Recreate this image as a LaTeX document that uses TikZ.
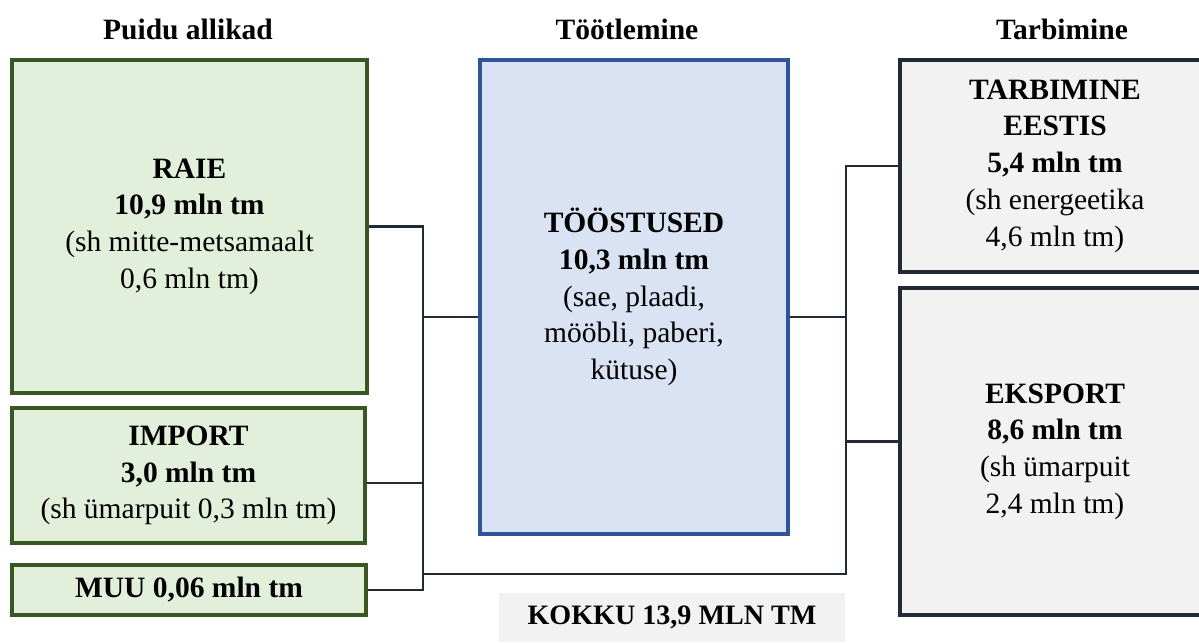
\documentclass[tikz,border=0pt]{standalone}
\usepackage{fontspec}
\setmainfont{Liberation Serif}

\definecolor{srcline}{HTML}{385723}
\definecolor{srcfill}{HTML}{E2EFDA}
\definecolor{indline}{HTML}{2F5597}
\definecolor{indfill}{HTML}{DAE3F3}
\definecolor{useline}{HTML}{222A35}
\definecolor{usefill}{HTML}{F2F2F2}

\begin{document}
\begin{tikzpicture}[x=0.02cm,y=-0.02cm,
        every node/.style={font=\fontsize{16.8}{20.9}\selectfont},
        srcbox/.style={draw=srcline,fill=srcfill,line width=2.2pt,align=center,inner sep=0pt},
        indbox/.style={draw=indline,fill=indfill,line width=2.2pt,align=center,inner sep=0pt},
        usebox/.style={draw=useline,fill=usefill,line width=2.2pt,align=center,inner sep=0pt},
        conn/.style={draw=useline,line width=1.3pt},
        heading/.style={font=\fontsize{16.8}{20.9}\selectfont\bfseries}]
    \useasboundingbox(0,0)rectangle(1199,642);

    % column headings
    \node[heading](hsrc)at(188,29){Puidu allikad};
    \node[heading](hind)at(627,29){Töötlemine};
    \node[heading](huse)at(1062,29){Tarbimine};

    % sources
    \node[srcbox,minimum width=7.1cm,minimum height=6.66cm](raie)at(189.5,226.5)
        {\textbf{RAIE}\\\textbf{10,9 mln tm}\\(sh mitte-metsamaalt\\0,6 mln tm)};
    \node[srcbox,minimum width=7.06cm,minimum height=2.7cm](import)at(188.5,475.5)
        {\textbf{IMPORT}\\\textbf{3,0 mln tm}\\(sh ümarpuit 0,3 mln tm)};
    \node[srcbox,minimum width=7.08cm,minimum height=1cm](muu)at(189,590)
        {\textbf{MUU 0,06 mln tm}};

    % processing
    \node[indbox,minimum width=6.16cm,minimum height=9.48cm](toos)at(634,297)
        {\textbf{TÖÖSTUSED}\\\textbf{10,3 mln tm}\\(sae, plaadi,\\mööbli, paberi,\\kütuse)};

    % consumption
    \node[usebox,minimum width=6.2cm,minimum height=4.24cm](tarb)at(1055,166)
        {\textbf{TARBIMINE}\\\textbf{EESTIS}\\\textbf{5,4 mln tm}\\(sh energeetika\\4,6 mln tm)};
    \node[usebox,minimum width=6.2cm,minimum height=6.54cm](eksport)at(1055,451.5)
        {\textbf{EKSPORT}\\\textbf{8,6 mln tm}\\(sh ümarpuit\\2,4 mln tm)};

    \node[fill=usefill,minimum width=6.92cm,minimum height=0.98cm,inner sep=0pt,
        font=\fontsize{16}{20}\selectfont\bfseries](kokku)at(672,617.5){KOKKU 13,9 MLN TM};

    % connectors
    \coordinate(lbus)at(423,574);
    \coordinate(rbus)at(846,574);
    \draw[conn](raie.east)-|(muu.east-|lbus)--(muu.east);
    \draw[conn]([yshift=-0.15cm]import.east)--([yshift=-0.15cm]import.east-|lbus);
    \draw[conn]([yshift=-0.4cm]toos.west)--([yshift=-0.4cm]toos.west-|lbus);
    \draw[conn](lbus)--(rbus)|-(tarb.west);
    \draw[conn]([yshift=0.2cm]eksport.west)--([yshift=0.2cm]eksport.west-|rbus);
    \draw[conn]([yshift=-0.4cm]toos.east)--([yshift=-0.4cm]toos.east-|rbus);
\end{tikzpicture}
\end{document}
